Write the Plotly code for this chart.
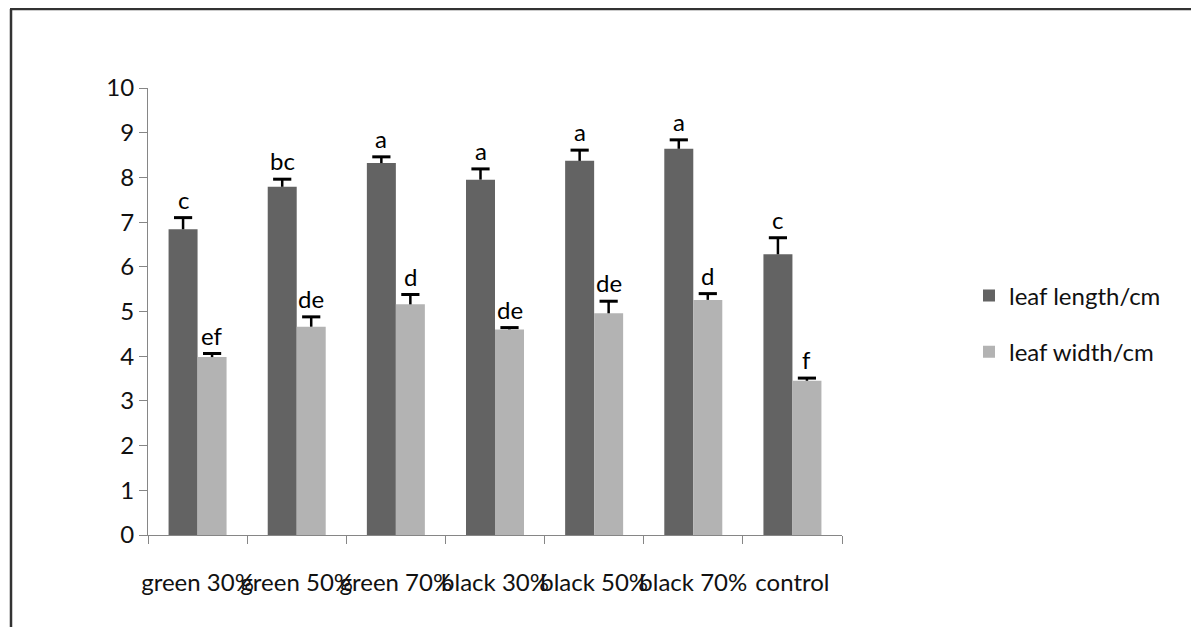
import plotly.graph_objects as go

categories = ["green 30%", "green 50%", "green 70%", "black 30%", "black 50%", "black 70%", "control"]
length_vals = [6.84, 7.79, 8.32, 7.95, 8.37, 8.64, 6.28]
length_err = [0.26, 0.17, 0.14, 0.24, 0.24, 0.20, 0.37]
width_vals = [3.98, 4.66, 5.16, 4.60, 4.96, 5.26, 3.45]
width_err = [0.08, 0.22, 0.22, 0.04, 0.27, 0.14, 0.06]
length_letters = ["c", "bc", "a", "a", "a", "a", "c"]
width_letters = ["ef", "de", "d", "de", "de", "d", "f"]

FONT = "Lato"
DARK = "#636363"
LIGHT = "#b3b3b3"
BARGAP = 0.415
OFFSET = (1 - BARGAP) / 4  # centre of each bar relative to category centre

fig = go.Figure()
fig.add_trace(go.Bar(
    x=categories, y=length_vals, name="leaf length/cm", legendgroup="len",
    marker=dict(color=DARK, line=dict(width=0)),
))
fig.add_trace(go.Bar(
    x=categories, y=width_vals, name="leaf width/cm", legendgroup="wid",
    marker=dict(color=LIGHT, line=dict(width=0)),
))

# one-sided (upper) error bars drawn on an overlaid numeric axis
def err_trace(vals, errs, shift):
    xs, ys = [], []
    for i, (v, e) in enumerate(zip(vals, errs)):
        xs += [i + shift, i + shift, None]
        ys += [v, v + e, None]
    stem = go.Scatter(x=xs, y=ys, mode="lines", xaxis="x2", yaxis="y",
                      line=dict(color="black", width=2.5), showlegend=False, hoverinfo="skip")
    cap = go.Scatter(x=[i + shift for i in range(len(vals))],
                     y=[v + e for v, e in zip(vals, errs)], mode="markers",
                     xaxis="x2", yaxis="y",
                     marker=dict(symbol="line-ew", size=13, line=dict(color="black", width=3)),
                     showlegend=False, hoverinfo="skip")
    return [stem, cap]

for t in err_trace(length_vals, length_err, -OFFSET) + err_trace(width_vals, width_err, OFFSET):
    fig.add_trace(t)

annotations = []
for i, c in enumerate(categories):
    annotations.append(dict(x=i - OFFSET, y=length_vals[i] + length_err[i], text=length_letters[i],
                            xref="x2", yref="y", showarrow=False, yanchor="bottom",
                            yshift=2, font=dict(family=FONT, size=24, color="black")))
    annotations.append(dict(x=i + OFFSET, y=width_vals[i] + width_err[i], text=width_letters[i],
                            xref="x2", yref="y", showarrow=False, yanchor="bottom",
                            yshift=2, font=dict(family=FONT, size=24, color="black")))

# page is drawn with an 8px body margin, so figure pixel = page pixel - 8
OFF = 8
L, T = 148 - OFF, 88 - OFF
pw, ph = 694, 447
W, H = 1199, 627
R = W - L - pw
B = H - T - ph

def px_x(p):
    return (p - OFF - L) / pw

def px_y(p):
    return (T + ph - (p - OFF)) / ph

shapes = [
    dict(type="line", xref="paper", yref="paper", x0=px_x(11), x1=px_x(11),
         y0=px_y(660), y1=px_y(9), line=dict(color="#333333", width=2.5)),
    dict(type="line", xref="paper", yref="paper", x0=px_x(10), x1=px_x(1230),
         y0=px_y(9), y1=px_y(9), line=dict(color="#333333", width=2.5)),
]

fig.update_layout(
    width=W, height=H,
    margin=dict(l=L, r=R, t=T, b=B),
    paper_bgcolor="white", plot_bgcolor="white",
    barmode="group", bargap=BARGAP, bargroupgap=0,
    font=dict(family=FONT, size=24, color="black"),
    showlegend=True,
    legend=dict(x=px_x(969), y=px_y(324), xanchor="left", yanchor="middle",
                font=dict(family=FONT, size=24, color="#111111"),
                tracegroupgap=22, bgcolor="rgba(0,0,0,0)"),
    annotations=annotations,
    shapes=shapes,
    xaxis2=dict(overlaying="x", range=[-0.5, len(categories) - 0.5], visible=False,
                showgrid=False, zeroline=False),
)
fig.update_layout(xaxis=dict(
    showline=True, linecolor="#868686", linewidth=1,
    ticks="outside", tickson="boundaries", ticklen=8, tickcolor="#868686",
    tickangle=0, ticklabelstandoff=26,
    tickfont=dict(family=FONT, size=24, color="#111111"),
    showgrid=False, zeroline=False,
))
fig.update_yaxes(
    range=[0, 10], dtick=1, showline=True, linecolor="#868686", linewidth=1,
    ticks="outside", ticklen=8, tickcolor="#868686",
    tickfont=dict(family=FONT, size=24, color="#111111"),
    showgrid=False, zeroline=False,
)

fig.write_html("out.html")
